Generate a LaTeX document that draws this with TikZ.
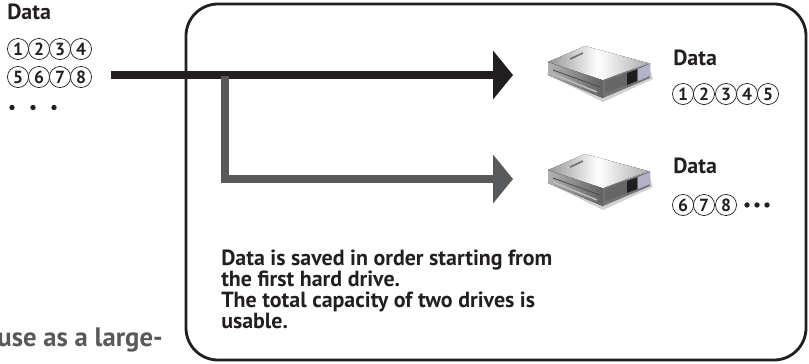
\documentclass[tikz,border=0pt]{standalone}
\usepackage{fontspec}
\setmainfont{PT Sans}
\usetikzlibrary{arrows.meta}
\definecolor{arrowdark}{RGB}{35,31,32}
\definecolor{arrowgray}{RGB}{88,89,91}
\definecolor{textdark}{RGB}{35,31,32}
\tikzset{
  databox/.style={draw=textdark, line width=2pt, rounded corners=0.8cm},
  flowmain/.style={arrowdark, line width=5.7pt, -{Triangle[length=14.2pt,width=34pt]}},
  flowsub/.style={arrowgray, line width=5.7pt, -{Triangle[length=14.2pt,width=34pt]}},
  datalabel/.style={right, inner sep=0pt, text=textdark, font=\fontsize{15.6}{15}\selectfont\bfseries},
  numcirc/.style={circle, draw=textdark, line width=0.5pt, inner sep=0pt, minimum size=15pt, text=textdark, font=\fontsize{12.5}{12.5}\selectfont\bfseries},
  dotmark/.style={circle, fill=textdark, inner sep=0pt, minimum size=3.8pt},
}

% one hard drive, #1 is the vertical shift
\newcommand{\harddrive}[1]{
\begin{scope}[yshift=#1]
% shadow
\fill[black!18] (546,74)--(603,102)--(653,79)--(650,70)--cycle;
% left side
\fill[left color=black!30, right color=black!62] (548,62)--(603,80)--(603,98)--(548,75)--cycle;
\draw[black!25, line width=1pt] (553,74)--(597,92);
\draw[black!70, line width=0.6pt] (553,70)--(600,87);
% right side
\fill[black!55] (603,80)--(650,63)--(650,78)--(603,98)--cycle;
\fill[black!60] (605,81)--(627,73)--(627,85)--(605,93)--cycle;
\fill[black!88] (627,73)--(637,69.5)--(637,81)--(627,85)--cycle;
\fill[blue!30!black!30] (638,69)--(650,64)--(650,76)--(638,81)--cycle;
% top
\fill[left color=black!42, right color=black!32, middle color=white] (548,62)--(585,46)--(648,63)--(603,80)--cycle;
\draw[black!55, line width=1.2pt] (570,59)--(583,53);
\end{scope}
}

\begin{document}
\begin{tikzpicture}[x=0.025cm,y=-0.025cm]
\useasboundingbox (0,0) rectangle (809,363);

% box
\draw[databox] (186,4) rectangle (806,360);

% drives
\harddrive{0cm}
\harddrive{-2.7cm}

% arrows
\coordinate (srcstart) at (111,75);
\coordinate (srcend) at (513,75);
\coordinate (branchtop) at (225,75.5);
\coordinate (branchcorner) at (225,179);
\coordinate (branchend) at (513,179);
\draw[flowmain] (srcstart) -- (srcend);
\draw[flowsub] (branchtop) -- (branchcorner) -- (branchend);

% nodes
\node[datalabel] (srclabel) at (7,12) {Data};
\foreach \n/\x in {1/18,2/39,3/60,4/81}
  \node[numcirc] (srcnum\n) at (\x,49) {\n};
\foreach \n/\x in {5/18,6/39,7/60,8/81}
  \node[numcirc] (srcnum\n) at (\x,77) {\n};
\foreach \x in {12,33,54}
  \node[dotmark] (srcdot\x) at (\x,107.5) {};

\node[datalabel] (firstlabel) at (673,58) {Data};
\foreach \n/\x in {1/683,2/704,3/726,4/747,5/768}
  \node[numcirc] (firstnum\n) at (\x,94) {\n};

\node[datalabel] (secondlabel) at (673,166) {Data};
\foreach \n/\x in {6/683,7/704,8/726}
  \node[numcirc] (secondnum\n) at (\x,205) {\n};
\foreach \x in {747,757,767}
  \node[dotmark] (seconddot\x) at (\x,205) {};

\node[right, inner sep=0pt, text=textdark, align=left, font=\fontsize{15.6}{15}\selectfont\bfseries] (notetext) at (221,289) {Data is saved in order starting from\\the first hard drive.\\The total capacity of two drives is\\usable.};

\node[left, inner sep=0pt, text=arrowgray, font=\fontsize{19}{20}\selectfont\bfseries] (cuttext) at (163,340) {use as a large-};

\end{tikzpicture}
\end{document}
